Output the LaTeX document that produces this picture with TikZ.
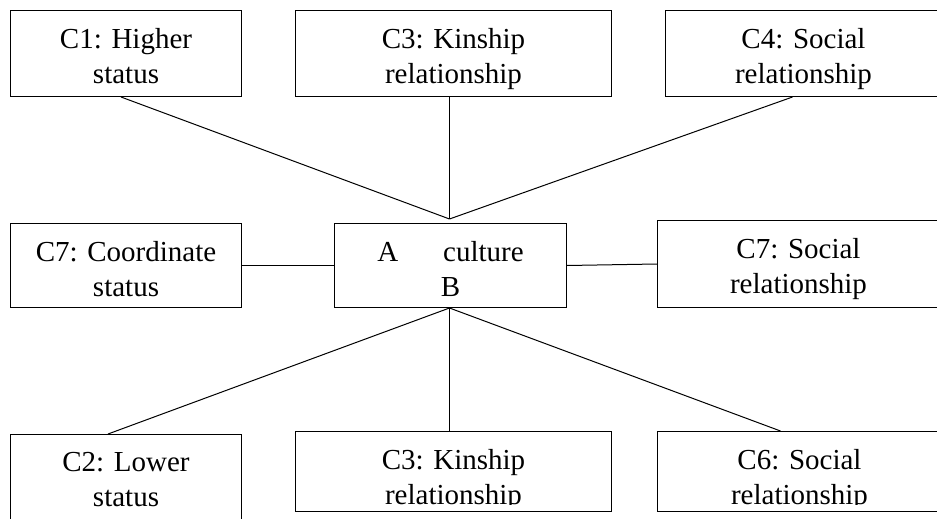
\documentclass[tikz,border=0pt]{standalone}
\usepackage{fontspec}
\setmainfont{Liberation Serif}
\usetikzlibrary{positioning}

\begin{document}
\begin{tikzpicture}[
      x=1pt, y=-1pt,
      cbox/.style={draw,line width=1pt,anchor=north west,inner sep=0pt},
      ctext/.style={align=center,inner sep=0pt,anchor=north,
        font=\fontsize{29}{35}\selectfont},
      link/.style={line width=1pt}
      ]
      \useasboundingbox (0,0) rectangle (937,519);
      % boxes: name/left/top/width/height/text
      \foreach \name/\bx/\by/\bw/\bh/\txt in {
          c1/10/10/231/86/{C1: Higher\\status},
          c3a/295/10/316/86/{C3: Kinship\\relationship},
          c4/665/10/276/86/{C4: Social\\relationship},
          c7l/10/223/231/84/{C7: Coordinate\\status},
          ctr/334/223/232/84/{A\hspace{45pt}culture\\B},
          c7r/657/220/282/87/{C7: Social\\relationship},
          c2/10/434/231/96/{C2: Lower\\status},
          c3b/295/431/316/80/{C3: Kinship\\relationship},
          c6/657/431/284/80/{C6: Social\\relationship}} {
          \node[cbox,minimum width=\bw pt,minimum height=\bh pt] (\name) at (\bx,\by) {};
          \begin{scope}
            \clip (\name.north west) rectangle ([yshift=8pt]\name.south east);
            \node[ctext,below=18pt of \name.north] (\name text) {\txt};
          \end{scope}
      }
      % meeting points
      \coordinate (up) at ([xshift=-1pt,yshift=4pt]ctr.north);
      \coordinate (down) at ([xshift=-1pt]ctr.south);
      % upper links
      \draw[link] ([xshift=-5pt]c1.south) -- (up);
      \draw[link] ([xshift=-4pt]c3a.south) -- (up);
      \draw[link] ([xshift=-11pt]c4.south) -- (up);
      % side links
      \draw[link] (c7l.east) -- (ctr.west);
      \draw[link] (ctr.east) -- (c7r.west);
      % lower links
      \draw[link] (down) -- ([xshift=-18pt]c2.north);
      \draw[link] (down) -- ([xshift=-4pt]c3b.north);
      \draw[link] (down) -- ([xshift=-19pt]c6.north);
\end{tikzpicture}
\end{document}
